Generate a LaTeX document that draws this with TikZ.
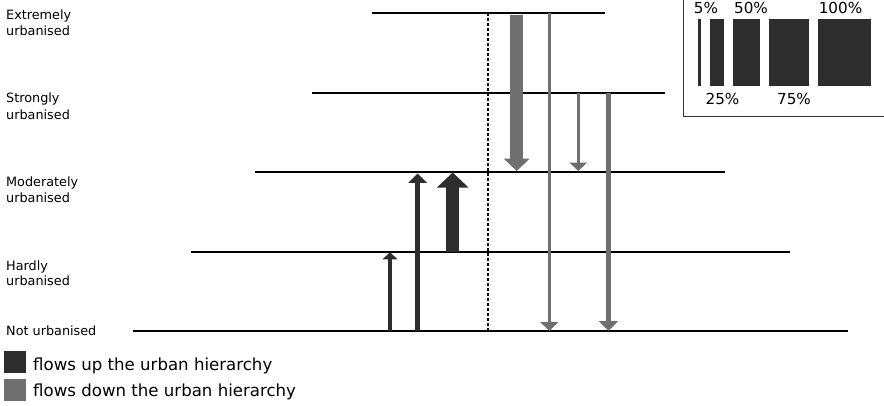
\documentclass[tikz,border=0pt]{standalone}
\usepackage{fontspec}
\setmainfont{DejaVu Sans}
\usetikzlibrary{arrows.meta}
\definecolor{updark}{HTML}{2D2D2D}
\definecolor{downgray}{HTML}{6F6F6F}
\tikzset{
  level/.style={draw=black, line width=1.5pt},
  lbl/.style={anchor=base west, inner sep=0pt, font=\fontsize{12.8}{15}\selectfont},
  pct/.style={anchor=base, inner sep=0pt, font=\fontsize{15.2}{18}\selectfont},
  legtxt/.style={anchor=base west, inner sep=0pt, font=\fontsize{16.6}{19}\selectfont},
  upflow/.style={draw=updark, line width=#1},
  downflow/.style={draw=downgray, line width=#1},
  bar/.style={fill=updark, draw=none},
}
\begin{document}
\begin{tikzpicture}[x=1pt,y=-1pt]
\useasboundingbox (0,0) rectangle (884,405);
% legend box
\draw[draw=black!80, line width=1pt] (683,-5) rectangle (890,116);
\fill[bar] (697.7,19) rectangle (701,85.7);
\fill[bar] (710,19) rectangle (724,85.7);
\fill[bar] (732.7,19) rectangle (760,85.7);
\fill[bar] (769,19) rectangle (809,85.7);
\fill[bar] (817.7,19) rectangle (871,85.7);
\node[pct] (p5) at (706,13.3) {5\%};
\node[pct] (p50) at (751,13.3) {50\%};
\node[pct] (p100) at (840.5,13.3) {100\%};
\node[pct] (p25) at (722.5,104) {25\%};
\node[pct] (p75) at (794,104) {75\%};
% levels
\coordinate (e1) at (372,13);  \coordinate (e2) at (605,13);
\coordinate (s1) at (312,93);  \coordinate (s2) at (665,93);
\coordinate (m1) at (255,172); \coordinate (m2) at (725,172);
\coordinate (h1) at (191,252); \coordinate (h2) at (790,252);
\coordinate (n1) at (133,331); \coordinate (n2) at (848,331);
\draw[level] (e1) -- (e2);
\draw[level] (s1) -- (s2);
\draw[level] (m1) -- (m2);
\draw[level] (h1) -- (h2);
\draw[level] (n1) -- (n2);
% dotted divider
\coordinate (dvt) at (487.5,13); \coordinate (dvb) at (487.5,331);
\draw[black, line width=2pt, dash pattern=on 3pt off 2pt] (dvt) -- (dvb);
% labels
\node[lbl] (l1a) at (6,19) {Extremely};
\node[lbl] (l1b) at (6,35) {urbanised};
\node[lbl] (l2a) at (6,102) {Strongly};
\node[lbl] (l2b) at (6,119) {urbanised};
\node[lbl] (l3a) at (6,186) {Moderately};
\node[lbl] (l3b) at (6,202) {urbanised};
\node[lbl] (l4a) at (6,270) {Hardly};
\node[lbl] (l4b) at (6,285.5) {urbanised};
\node[lbl] (l5a) at (6,335.7) {Not urbanised};
% down flows
\coordinate (d1a) at (516.7,15);  \coordinate (d1b) at (516.7,171);
\coordinate (d2a) at (549.3,13);  \coordinate (d2b) at (549.3,331);
\coordinate (d3a) at (578.3,93);  \coordinate (d3b) at (578.3,171);
\coordinate (d4a) at (608.5,93);  \coordinate (d4b) at (608.5,331);
\draw[downflow=12.7pt, -{Triangle[width=25pt,length=12.3pt]}] (d1a) -- (d1b);
\draw[downflow=2.5pt, -{Triangle[width=17.7pt,length=9pt]}] (d2a) -- (d2b);
\draw[downflow=2.7pt, -{Triangle[width=17pt,length=8.3pt]}] (d3a) -- (d3b);
\draw[downflow=5.3pt, -{Triangle[width=19pt,length=10pt]}] (d4a) -- (d4b);
% up flows
\coordinate (u1a) at (390,331);   \coordinate (u1b) at (390,252.3);
\coordinate (u2a) at (417.7,331); \coordinate (u2b) at (417.7,173.5);
\coordinate (u3a) at (452.7,252); \coordinate (u3b) at (452.7,172.5);
\draw[upflow=4.7pt, -{Triangle[width=14.7pt,length=7pt]}] (u1a) -- (u1b);
\draw[upflow=5pt, -{Triangle[width=18pt,length=9.3pt]}] (u2a) -- (u2b);
\draw[upflow=13pt, -{Triangle[width=30.7pt,length=15pt]}] (u3a) -- (u3b);
% legend
\fill[updark] (4,351) rectangle (26,373);
\fill[downgray] (4,379) rectangle (26,401);
\node[legtxt] (lu) at (33,370) {flows up the urban hierarchy};
\node[legtxt] (ld) at (33,396.7) {flows down the urban hierarchy};
\end{tikzpicture}
\end{document}
